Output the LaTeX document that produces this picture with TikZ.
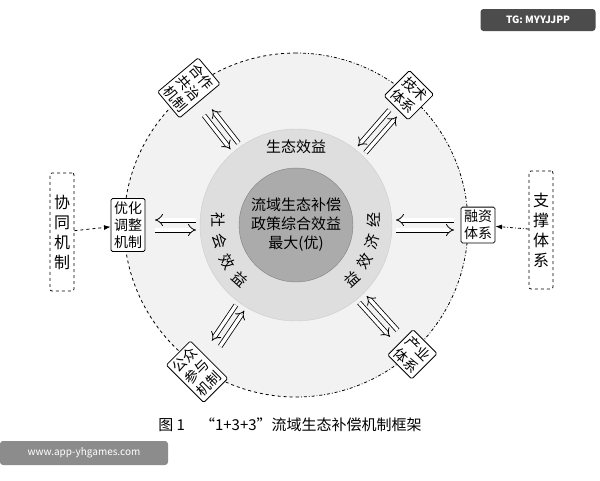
\documentclass[tikz,border=0pt]{standalone}
\usepackage{fontspec}
\setmainfont{Noto Sans CJK SC}
\usetikzlibrary{arrows.meta,positioning}
\tikzset{
  mechbox/.style={draw, thick, fill=white, rounded corners=1.5pt, inner sep=3pt,
    align=center, font=\fontsize{14}{17}\selectfont},
  outbox/.style={draw, thick, dashed, rounded corners=2pt, inner sep=4pt,
    align=center, font=\fontsize{16}{20}\selectfont, minimum height=118pt},
  dbl/.style={double, double distance=3.4pt, line width=0.8pt, -{Implies}},
  arcchar/.style={font=\fontsize{15}{15}\selectfont, inner sep=0pt}
}
\begin{document}
\begin{tikzpicture}[x=1pt,y=1pt]
  \useasboundingbox (0,0) rectangle (600,-480);
  \fill[white] (0,0) rectangle (600,-480);
  \coordinate (C) at (296,-225);
  % rings
  \fill[black!5] (C) circle (172);
  \fill[black!13] (C) circle (96);
  \draw[black!20] (C) circle (96);
  \fill[black!33] (C) circle (57);
  \draw[black!50] (C) circle (57);
  \draw[thick, dashed] ([shift={(90:172)}]C) arc (90:270:172);
  \draw[thick, dash dot] ([shift={(-90:172)}]C) arc (-90:90:172);
  % centre texts
  \node[align=center, font=\fontsize{15}{19}\selectfont] (core) at (C) {流域生态补偿\\政策综合效益\\最大(优)};
  \node[font=\fontsize{15}{15}\selectfont] (eco) at (296,-147) {生态效益};
  \foreach \ch [count=\i from 0] in {社,会,效,益}
    \node[arcchar, rotate=-90+16*\i] at ([shift={(176+16*\i:78)}]C) {\ch};
  \foreach \ch [count=\i from 0] in {经,济,效,益}
    \node[arcchar, rotate=90-16*\i] at ([shift={(4-16*\i:78)}]C) {\ch};
  % boxes on the ring
  \node[mechbox, rotate=-50] (coop) at ([shift={(128:174)}]C) {合作\\共治\\机制};
  \node[mechbox, rotate=-45] (tech) at ([shift={(49:172)}]C) {技术\\体系};
  \node[mechbox] (fin) at ([shift={(0:182)}]C) {融资\\体系};
  \node[mechbox] (opt) at ([shift={(180:168)}]C) {优化\\调整\\机制};
  \node[mechbox, rotate=45] (pub) at ([shift={(236:177)}]C) {公众\\参与\\机制};
  \node[mechbox, rotate=-45] (ind) at ([shift={(312:174)}]C) {产业\\体系};
  % double arrows
  \foreach \a/\ra/\rb in {128/100/143, 49/100/148, 0/100/158, 180/100/141, 236/100/143, 312/100/146}{
    \draw[dbl] ([shift={(\a:\rb)}]C) ++(\a+90:5) -- ++(\a+180:\rb-\ra);
    \draw[dbl] ([shift={(\a:\ra)}]C) ++(\a-90:5) -- ++(\a:\rb-\ra);
  }
  % outer boxes
  \node[outbox] (syn) at (62,-232) {协\\同\\机\\制};
  \node[outbox] (sup) at (541,-230) {支\\撑\\体\\系};
  \draw[thick, dashed, -Latex] (syn) -- (opt);
  \draw[thick, dash dot, -Latex] (sup) -- (fin);
  % caption
  \node[font=\fontsize{15}{15}\selectfont] (cap) at (290,-425) {图 1\quad “1+3+3”流域生态补偿机制框架};
  % marks
  \node[fill=black!70, text=white, rounded corners=3pt, font=\fontsize{10}{10}\selectfont\bfseries,
    minimum width=115pt, minimum height=22pt] (tg) at (538,-20) {TG: MYYJJPP};
  \node[fill=black!45, text=white, rounded corners=3pt, font=\fontsize{10}{10}\selectfont,
    minimum width=168pt, minimum height=24pt] (web) at (84,-453) {www.app-yhgames.com};
\end{tikzpicture}
\end{document}
